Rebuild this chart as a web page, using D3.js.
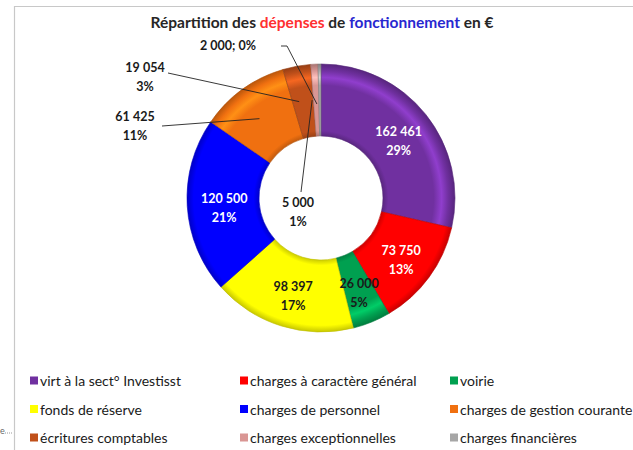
<!DOCTYPE html>
<html><head><meta charset="utf-8">
<script src="https://cdn.jsdelivr.net/npm/d3@7"></script>
<style>body{margin:0;background:#fff;overflow:hidden}svg{display:block}</style>
</head><body>
<svg id="c" width="633" height="450"></svg>
<script>
const categories = ["virt à la sect° Investisst","charges à caractère général","voirie","fonds de réserve","charges de personnel","charges de gestion courante","écritures comptables","charges exceptionnelles","charges financières"];
const values = [162461, 73750, 26000, 98397, 120500, 61425, 19054, 5000, 2000];
const colors = ["#7030a0","#ff0000","#00a050","#ffff00","#0000ff","#f07010","#c0501a","#d99694","#a6a6a6"];
const labelColors = ["#fff","#fff","#1a1a1a","#1a1a1a","#fff","#1a1a1a","#1a1a1a","#1a1a1a","#1a1a1a"];
// outside-label layout (offsets from centre) for small slices; null = label on slice
const outside = [null,null,null,null,null,
  {dx:-186,dy:-72,lx:-159,ly:-72,single:false},
  {dx:-176,dy:-121,lx:-153,ly:-125,single:false},
  {dx:-23,dy:14,lx:-20,ly:-6,single:false},
  {dx:-93,dy:-150,lx:-34,ly:-150,single:true}];

const fmt = v => d3.format(",")(v).replace(/,/g," ");
const svg = d3.select("#c");
const font = "Lato, 'Open Sans', sans-serif";

// frame
svg.append("path").attr("d","M14.5,450 V6.5 H633").attr("fill","none").attr("stroke","#c8c8c8").attr("stroke-width",1.2);
svg.append("text").attr("x",0).attr("y",434).attr("font-family",font).attr("font-size",9).attr("fill","#666").text("e");
svg.append("line").attr("x1",5).attr("x2",13).attr("y1",433).attr("y2",433).attr("stroke","#999").attr("stroke-dasharray","1,1");

// title
const title = svg.append("text").attr("x",322).attr("y",28).attr("text-anchor","middle")
  .attr("font-family",font).attr("font-weight","bold").attr("font-size",15.5).attr("fill","#262626");
title.append("tspan").text("Répartition des ");
title.append("tspan").attr("fill","#ff3030").text("dépenses");
title.append("tspan").text(" de ");
title.append("tspan").attr("fill","#2828d0").text("fonctionnement");
title.append("tspan").text(" en €");

const cx = 321, cy = 198, R = 134, r = 62;
const g = svg.append("g").attr("transform",`translate(${cx},${cy})`);
const defs = svg.append("defs");
colors.forEach((c,i)=>{
  const base = d3.color(c);
  const gr = defs.append("radialGradient").attr("id","g"+i).attr("gradientUnits","userSpaceOnUse")
    .attr("cx",0).attr("cy",0).attr("r",R);
  const f = r/R;
  [[f, base.darker(0.6)],[f+0.04, base],[0.84, base],[0.9, base.brighter(0.7)],[0.95, base],[1, base.darker(0.7)]]
    .forEach(([o,col])=>gr.append("stop").attr("offset",o).attr("stop-color",col.formatHex()));
});

const pie = d3.pie().sort(null).value(d=>d)(values);
const arc = d3.arc().innerRadius(r).outerRadius(R);
const total = d3.sum(values);

g.selectAll("path.s").data(pie).join("path").attr("class","s")
  .attr("d",arc).attr("fill",(d,i)=>`url(#g${i})`)
  .attr("stroke",(d,i)=>d3.color(colors[i]).darker(0.8).formatHex()).attr("stroke-width",0.6);

const pct = v => Math.round(v/total*100)+"%";
pie.forEach((d,i)=>{
  const [x,y] = arc.centroid(d);
  const o = outside[i];
  const t = g.append("text").attr("font-family",font).attr("font-weight","bold").attr("font-size",12.5)
    .attr("text-anchor","middle").attr("fill",labelColors[i]);
  if(!o){
    t.append("tspan").attr("x",x+1).attr("y",y-1).text(fmt(values[i]));
    t.append("tspan").attr("x",x+1).attr("y",y+18).text(pct(values[i]));
  } else {
    const pts = o.single ? [[o.lx-6,o.ly-2],[o.lx,o.ly-2],[x-3,y+4]] : [[o.lx,o.ly],[x-4,y]];
    g.append("path").attr("d",d3.line()(pts)).attr("fill","none").attr("stroke","#222").attr("stroke-width",0.9);
    if(o.single){
      t.append("tspan").attr("x",o.dx).attr("y",o.dy+2).text(fmt(values[i])+"; "+pct(values[i]));
    } else {
      t.append("tspan").attr("x",o.dx).attr("y",o.dy-5).text(fmt(values[i]));
      t.append("tspan").attr("x",o.dx).attr("y",o.dy+14).text(pct(values[i]));
    }
  }
});

// legend
const colX = [30,240,450], rowY = [381,409.5,438];
categories.forEach((c,i)=>{
  const x = colX[i%3], y = rowY[Math.floor(i/3)];
  svg.append("rect").attr("x",x).attr("y",y-4.5).attr("width",8).attr("height",8).attr("fill",colors[i]);
  svg.append("text").attr("x",x+10).attr("y",y+5).attr("font-family",font).attr("font-size",14)
    .attr("fill","#1a1a1a").text(c);
});
</script>
</body></html>
